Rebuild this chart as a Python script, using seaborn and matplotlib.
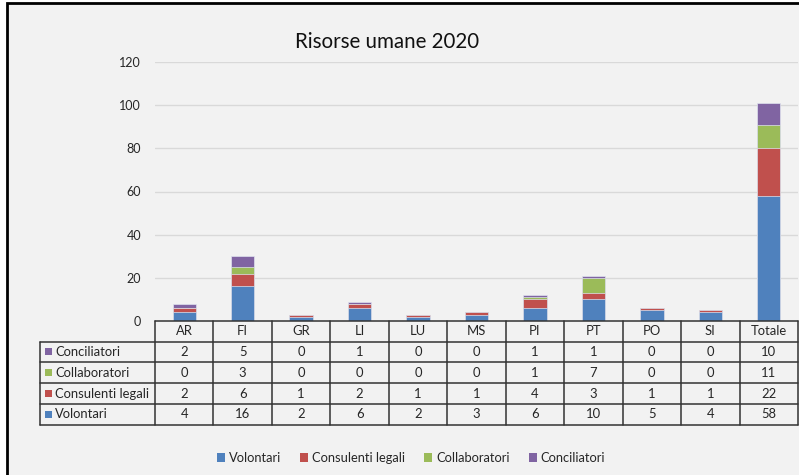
import matplotlib
matplotlib.use("Agg")
import matplotlib.pyplot as plt
from matplotlib.patches import Rectangle
from matplotlib.lines import Line2D
import seaborn as sns
import pandas as pd
import numpy as np

categories = ["AR", "FI", "GR", "LI", "LU", "MS", "PI", "PT", "PO", "SI", "Totale"]
volontari = [4, 16, 2, 6, 2, 3, 6, 10, 5, 4, 58]
consulenti = [2, 6, 1, 2, 1, 1, 4, 3, 1, 1, 22]
collaboratori = [0, 3, 0, 0, 0, 0, 1, 7, 0, 0, 11]
conciliatori = [2, 5, 0, 1, 0, 0, 1, 1, 0, 0, 10]
series_names = ["Volontari", "Consulenti legali", "Collaboratori", "Conciliatori"]
colors = ["#4F81BD", "#C0504D", "#9BBB59", "#8064A2"]
title = "Risorse umane 2020"
yticks = [0, 20, 40, 60, 80, 100, 120]

sns.set_theme(style="white")
plt.rcParams["font.family"] = ["Lato", "DejaVu Sans"]

W, H = 799, 475
fig = plt.figure(figsize=(W / 100, H / 100), dpi=100, facecolor="white")

def fx(x):
    return x / W

def fy(y):
    return 1 - y / H

bg = "#F2F2F2"
fig.patches.append(Rectangle((fx(7), fy(480)), fx(800), 480 / H - 8 / H + 0.01,
                             transform=fig.transFigure, facecolor=bg,
                             edgecolor="black", linewidth=2, zorder=-5))

left, right, top, bottom = 155, 798, 62, 321
ax = fig.add_axes([fx(left), fy(bottom), (right - left) / W, (bottom - top) / H])
ax.set_facecolor(bg)
ax.patch.set_alpha(0)

df = pd.DataFrame({"cat": categories,
                   "Volontari": volontari,
                   "Consulenti legali": consulenti,
                   "Collaboratori": collaboratori,
                   "Conciliatori": conciliatori})
cum = df[series_names].cumsum(axis=1)
for name, col in reversed(list(zip(series_names, colors))):
    sns.barplot(x=df["cat"], y=cum[name], color=col, width=0.4, saturation=1,
                ax=ax, order=categories, edgecolor="#dfe3ef", linewidth=0.5, zorder=3)

ax.set_xlim(-0.5, len(categories) - 0.5)
ax.set_ylim(0, 120)
ax.set_yticks(yticks)
ax.set_yticklabels([str(t) for t in yticks], fontsize=9.0, color="#262626")
ax.tick_params(axis="y", length=0, pad=10)
ax.set_xticks([])
ax.set_xlabel("")
ax.set_ylabel("")
for s in ax.spines.values():
    s.set_visible(False)
for t in yticks[1:]:
    ax.axhline(t, color="#D9D9D9", linewidth=1, zorder=1)

fig.text(fx(387), fy(42), title, ha="center", va="center", fontsize=14.8, color="#111111")

# data table
col_w = (right - left) / len(categories)
row_tops = [321, 341.5, 362.3, 383.1, 403.9, 424.7]
tab_left = 40
lc = "#333333"
def hline(y, x0, x1):
    fig.add_artist(Line2D([fx(x0), fx(x1)], [fy(y), fy(y)], transform=fig.transFigure,
                          color=lc, linewidth=1.1))
def vline(x, y0, y1):
    fig.add_artist(Line2D([fx(x), fx(x)], [fy(y0), fy(y1)], transform=fig.transFigure,
                          color=lc, linewidth=1.1))

hline(row_tops[0], left, right)
for y in row_tops[1:]:
    hline(y, tab_left, right)
vline(tab_left, row_tops[1], row_tops[-1])
for i in range(len(categories) + 1):
    vline(left + i * col_w, row_tops[0], row_tops[-1])

tc = "#262626"
fs = 9.4
for i, c in enumerate(categories):
    fig.text(fx(left + (i + 0.5) * col_w), fy((row_tops[0] + row_tops[1]) / 2), c,
             ha="center", va="center", fontsize=fs, color=tc)
table_rows = [("Conciliatori", conciliatori, colors[3]),
              ("Collaboratori", collaboratori, colors[2]),
              ("Consulenti legali", consulenti, colors[1]),
              ("Volontari", volontari, colors[0])]
for r, (name, vals, col) in enumerate(table_rows):
    yc = (row_tops[r + 1] + row_tops[r + 2]) / 2
    fig.patches.append(Rectangle((fx(45), fy(yc + 3.5)), 7 / W, 7 / H,
                                 transform=fig.transFigure, facecolor=col, edgecolor="none"))
    fig.text(fx(55), fy(yc), name, ha="left", va="center", fontsize=fs, color=tc)
    for i, v in enumerate(vals):
        fig.text(fx(left + (i + 0.5) * col_w), fy(yc), str(v),
                 ha="center", va="center", fontsize=fs, color=tc)

handles = [Rectangle((0, 0), 1, 1, facecolor=c, edgecolor="none") for c in colors]
fig.legend(handles, series_names, loc="center", bbox_to_anchor=(fx(411), fy(458)),
           ncol=4, frameon=False, fontsize=9.3, handlelength=0.6, handleheight=0.6,
           handletextpad=0.3, columnspacing=1.5, labelcolor=tc)

fig.savefig("out.png", dpi=100, facecolor="white")
